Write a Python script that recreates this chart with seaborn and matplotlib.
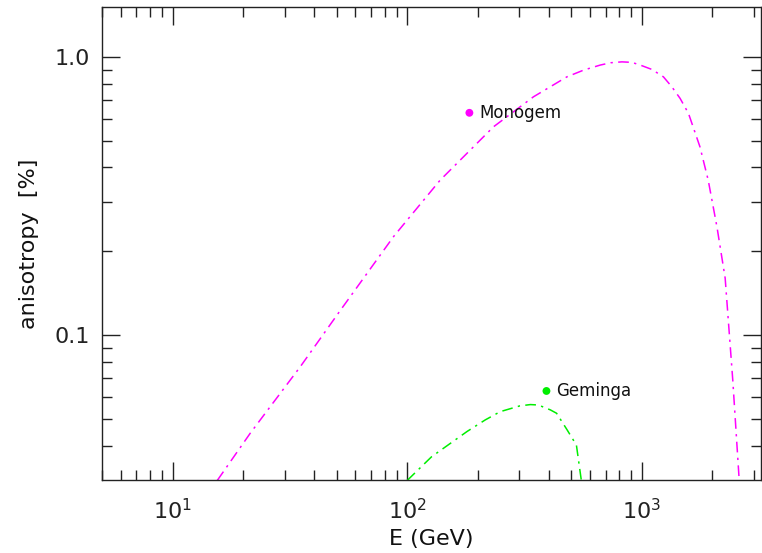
import numpy as np
import matplotlib
matplotlib.use("Agg")
import matplotlib.pyplot as plt
import matplotlib.ticker as mticker
import seaborn as sns

# ====================================
# Data
# ====================================
monogem_E = [15.5, 21.4, 35, 52, 87.5, 138, 233, 345, 479, 565, 665, 736, 822,
             906, 984, 1102, 1236, 1342, 1455, 1580, 1768, 1918, 2089, 2265,
             2440, 2600]
monogem_aniso = [0.030, 0.0443, 0.0769, 0.123, 0.226, 0.360, 0.560, 0.718, 0.847,
                 0.896, 0.934, 0.952, 0.959, 0.955, 0.934, 0.901, 0.847, 0.780,
                 0.709, 0.626, 0.475, 0.360, 0.245, 0.160, 0.069, 0.030]

geminga_E = [100, 127, 180, 215, 249, 302, 335, 362, 407, 433, 480, 526, 552]
geminga_aniso = [0.030, 0.0365, 0.0450, 0.0495, 0.053, 0.0556, 0.0562, 0.056,
                 0.0538, 0.0523, 0.0456, 0.0402, 0.030]

# observed points (E, anisotropy)
monogem_point = (184, 0.629)
geminga_point = (392, 0.0629)

magenta = "#FF00FF"
green = "#00EE00"

# ====================================
# Plot
# ====================================
sns.set_style("ticks")
plt.rcParams['font.family'] = ['DejaVu Sans']

fig = plt.figure(figsize=(7.62, 5.53), dpi=100)
ax = fig.add_axes([0.1339, 0.132, 0.8648, 0.8553])

dash = (0, (7, 3.5, 1.5, 3.5))
sns.lineplot(x=monogem_E, y=monogem_aniso, color=magenta, lw=1.1,
             linestyle=dash, sort=False, ax=ax)
sns.lineplot(x=geminga_E, y=geminga_aniso, color=green, lw=1.1,
             linestyle=dash, sort=False, ax=ax)

sns.scatterplot(x=[monogem_point[0]], y=[monogem_point[1]], color=magenta,
                s=32, edgecolor="none", ax=ax)
sns.scatterplot(x=[geminga_point[0]], y=[geminga_point[1]], color=green,
                s=32, edgecolor="none", ax=ax)

ax.annotate("Monogem", monogem_point, xytext=(7, 0), textcoords="offset points",
            va="center", ha="left", fontsize=12, color="#111111")
ax.annotate("Geminga", geminga_point, xytext=(7, 0), textcoords="offset points",
            va="center", ha="left", fontsize=12, color="#111111")

ax.set_xscale("log")
ax.set_yscale("log")
ax.set_xlim(5.0, 3220)
ax.set_ylim(0.0301, 1.51)

ax.yaxis.set_major_locator(mticker.FixedLocator([0.1, 1.0]))
ax.yaxis.set_major_formatter(mticker.FixedFormatter(["0.1", "1.0"]))
ax.yaxis.set_minor_locator(mticker.LogLocator(base=10, subs=np.arange(2, 10), numticks=20))
ax.yaxis.set_minor_formatter(mticker.NullFormatter())
ax.xaxis.set_major_locator(mticker.LogLocator(base=10, numticks=10))
ax.xaxis.set_minor_locator(mticker.LogLocator(base=10, subs=np.arange(2, 10), numticks=20))
ax.xaxis.set_minor_formatter(mticker.NullFormatter())

for s in ax.spines.values():
    s.set_color("#222222")
    s.set_linewidth(1.0)
    s.set_visible(True)

ax.tick_params(which="both", direction="in", top=True, right=True, color="#222222",
               width=1.0, labelsize=16, labelcolor="#222222")
ax.tick_params(which="major", length=13)
ax.tick_params(which="minor", length=7)
ax.tick_params(axis="x", which="major", pad=13)
ax.tick_params(axis="y", which="major", pad=9)

ax.set_xlabel("E (GeV)", fontsize=16, color="#111111", labelpad=4)
ax.set_ylabel("anisotropy  [%]", fontsize=16, color="#111111", labelpad=11)

fig.savefig("out.png", dpi=100)
